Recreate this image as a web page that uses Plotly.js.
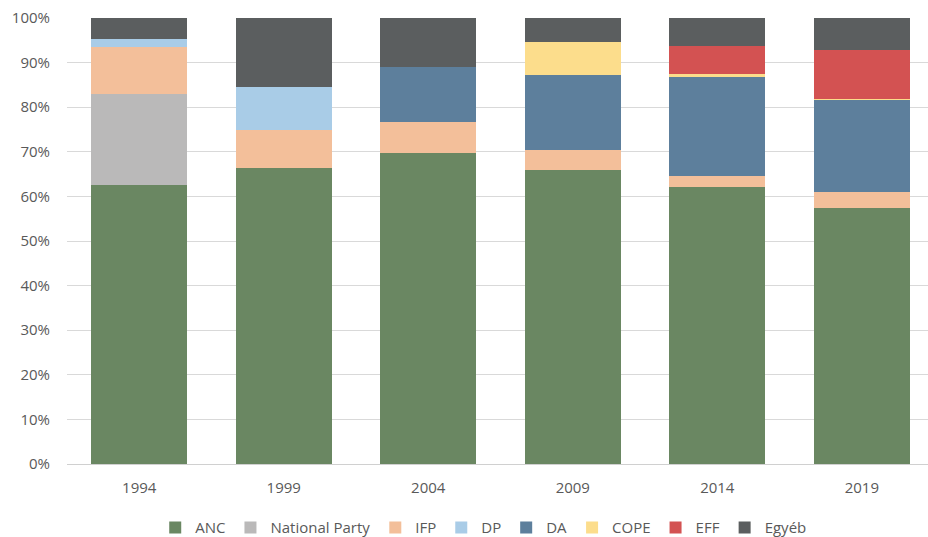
<!DOCTYPE html>
<html><head><meta charset="utf-8">
<script src="https://cdn.plot.ly/plotly-3.0.1.min.js"></script>
<style>body{margin:0;padding:0;background:#fff}#chart{width:928px;height:537px}</style>
</head><body><div id="chart"></div>
<script>
var years = ["1994","1999","2004","2009","2014","2019"];
var anc = [62.65, 66.35, 69.69, 65.90, 62.15, 57.50];
var nationalParty = [20.39, 0, 0, 0, 0, 0];
var ifp = [10.54, 8.58, 6.97, 4.55, 2.40, 3.38];
var dp = [1.73, 9.56, 0, 0, 0, 0];
var da = [0, 0, 12.37, 16.66, 22.23, 20.77];
var cope = [0, 0, 0, 7.42, 0.67, 0.27];
var eff = [0, 0, 0, 0, 6.35, 10.80];
var egyeb = [4.69, 15.51, 10.97, 5.47, 6.20, 7.28];

var seriesNames = ["ANC","National Party","IFP","DP","DA","COPE","EFF","Egyéb"];
var seriesData = [anc, nationalParty, ifp, dp, da, cope, eff, egyeb];
var colors = ["#6a8762","#bab9b9","#f3bf9a","#a9cce7","#5d7f9c","#fcdd8c","#d35252","#5b5e5f"];

var yTickVals = [0,10,20,30,40,50,60,70,80,90,100];
var yTickText = ["0%","10%","20%","30%","40%","50%","60%","70%","80%","90%","100%"];

var FONT = "'Open Sans', sans-serif";

var traces = seriesNames.map(function(n, i){
  return {type:"bar", name:n, x:years, y:seriesData[i],
    marker:{color:colors[i], line:{width:0}}, hoverinfo:"y+name"};
});

var layout = {
  barmode:"stack",
  bargap:0.336,
  width:928, height:537,
  margin:{l:67, r:0, t:18, b:73, autoexpand:false},
  paper_bgcolor:"#fff", plot_bgcolor:"#fff",
  font:{family:FONT, size:15, color:"#595959"},
  xaxis:{type:"category", range:[-0.5, 5.458], showgrid:false, showline:true,
    linecolor:"#d0d0d0", linewidth:1, ticks:"", tickfont:{size:15, color:"#595959"},
    ticklabelstandoff:10, automargin:false},
  yaxis:{range:[0,100], tickmode:"array", tickvals:yTickVals, ticktext:yTickText,
    showgrid:true, gridcolor:"#d9d9d9", gridwidth:1, zeroline:false, showline:false,
    tickfont:{size:15, color:"#595959"}, ticks:"", ticklabelstandoff:16, automargin:false},
  showlegend:true,
  legend:{orientation:"h", x:0.484, xanchor:"center", yref:"container", y:0.017, yanchor:"middle",
    font:{size:15, color:"#595959"}, itemwidth:30, traceorder:"normal", itemclick:false, tracegroupgap:0}
};

Plotly.newPlot("chart", traces, layout, {displayModeBar:false, staticPlot:true});
</script></body></html>
